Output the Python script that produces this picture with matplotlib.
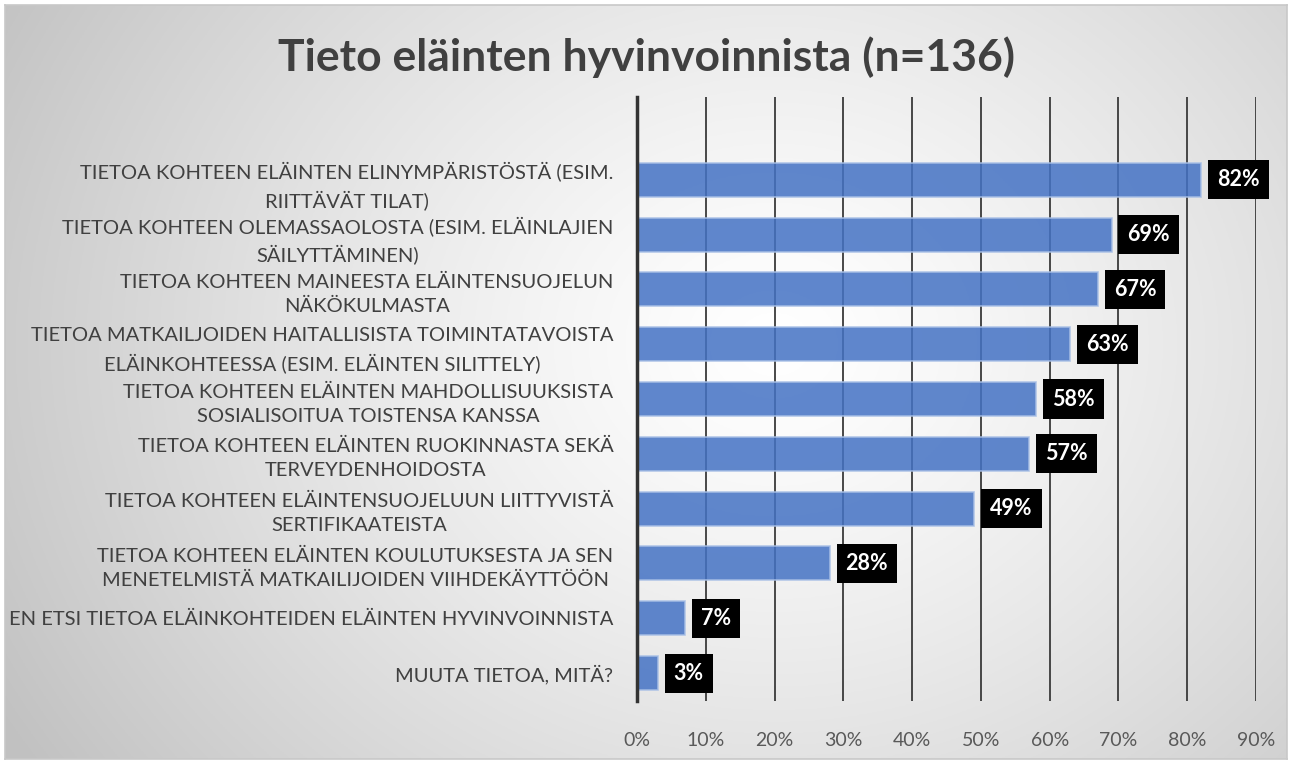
import numpy as np
import matplotlib
matplotlib.use('Agg')
import matplotlib.pyplot as plt

# data
categories = [
    "TIETOA KOHTEEN ELÄINTEN ELINYMPÄRISTÖSTÄ (ESIM.\nRIITTÄVÄT TILAT)",
    "TIETOA KOHTEEN OLEMASSAOLOSTA (ESIM. ELÄINLAJIEN\nSÄILYTTÄMINEN)",
    "TIETOA KOHTEEN MAINEESTA ELÄINTENSUOJELUN\nNÄKÖKULMASTA",
    "TIETOA MATKAILJOIDEN HAITALLISISTA TOIMINTATAVOISTA\nELÄINKOHTEESSA (ESIM. ELÄINTEN SILITTELY)",
    "TIETOA KOHTEEN ELÄINTEN MAHDOLLISUUKSISTA\nSOSIALISOITUA TOISTENSA KANSSA",
    "TIETOA KOHTEEN ELÄINTEN RUOKINNASTA SEKÄ\nTERVEYDENHOIDOSTA",
    "TIETOA KOHTEEN ELÄINTENSUOJELUUN LIITTYVISTÄ\nSERTIFIKAATEISTA",
    "TIETOA KOHTEEN ELÄINTEN KOULUTUKSESTA JA SEN\nMENETELMISTÄ MATKAILIJOIDEN VIIHDEKÄYTTÖÖN",
    "EN ETSI TIETOA ELÄINKOHTEIDEN ELÄINTEN HYVINVOINNISTA",
    "MUUTA TIETOA, MITÄ?",
]
values = [0.82, 0.69, 0.67, 0.63, 0.58, 0.57, 0.49, 0.28, 0.07, 0.03]
xticks = [0, 0.1, 0.2, 0.3, 0.4, 0.5, 0.6, 0.7, 0.8, 0.9]
title = "Tieto eläinten hyvinvoinnista (n=136)"

plt.rcParams['font.family'] = ['Lato', 'DejaVu Sans']

W, H = 1292, 764
fig = plt.figure(figsize=(W / 100, H / 100), dpi=100, facecolor='w')

# gradient background inside the border
bg = fig.add_axes([5 / W, 5 / H, 1 - 10 / W, 1 - 10 / H], zorder=-10)
yy, xx = np.mgrid[0:1:300j, 0:1:500j]
r = np.sqrt(((xx - 0.6) * 1.3) ** 2 + ((yy - 0.45) * 0.9) ** 2)
r = np.clip(r / 0.9, 0, 1)
shade = 1.0 - 0.24 * r ** 1.3
bg.imshow(np.dstack([shade] * 3), aspect='auto', extent=[0, 1, 0, 1], origin='upper')
bg.set_xticks([])
bg.set_yticks([])
for s in bg.spines.values():
    s.set_color('#c8c8c8')
    s.set_linewidth(1.2)

ax = fig.add_axes([637 / W, 1 - 701 / H, (1256 - 637) / W, (701 - 97) / H])
ax.set_facecolor('none')

y = np.arange(len(values))
ax.barh(y, values, height=0.62, color='#4472c4', alpha=0.85,
        edgecolor='#a9c0e6', linewidth=1.2, zorder=3)

for yi, v in zip(y, values):
    ax.annotate(f"{round(v * 100)}%", xy=(v, yi), xytext=(11.5, 0),
                textcoords='offset points', ha='left', va='center',
                fontsize=15.5, fontweight='bold', color='white', zorder=5,
                bbox=dict(boxstyle='square,pad=0.42', fc='black', ec='none'))

ax.set_xlim(0, 0.9)
ax.set_ylim(9.51, -1.51)
ax.set_xticks(xticks)
ax.set_xticklabels([f"{round(t * 100)}%" for t in xticks], fontsize=14, color='#595959')
ax.set_yticks(y)
ax.set_yticklabels(categories, fontsize=14.5, color='#404040', multialignment='center',
                   linespacing=1.5)
ax.tick_params(axis='both', length=0)
ax.tick_params(axis='x', pad=22)
ax.tick_params(axis='y', pad=17)
ax.grid(axis='x', color='#3a3a3a', linewidth=1.3, zorder=1)
for s in ['top', 'right', 'bottom']:
    ax.spines[s].set_visible(False)
ax.spines['left'].set_linewidth(2.5)
ax.spines['left'].set_color('#333333')
ax.spines['left'].set_zorder(4)

fig.text(647 / W, 1 - 57 / H, title, ha='center', va='center', fontsize=32,
         fontweight='bold', color='#404040')

fig.savefig('out.png', dpi=100)
